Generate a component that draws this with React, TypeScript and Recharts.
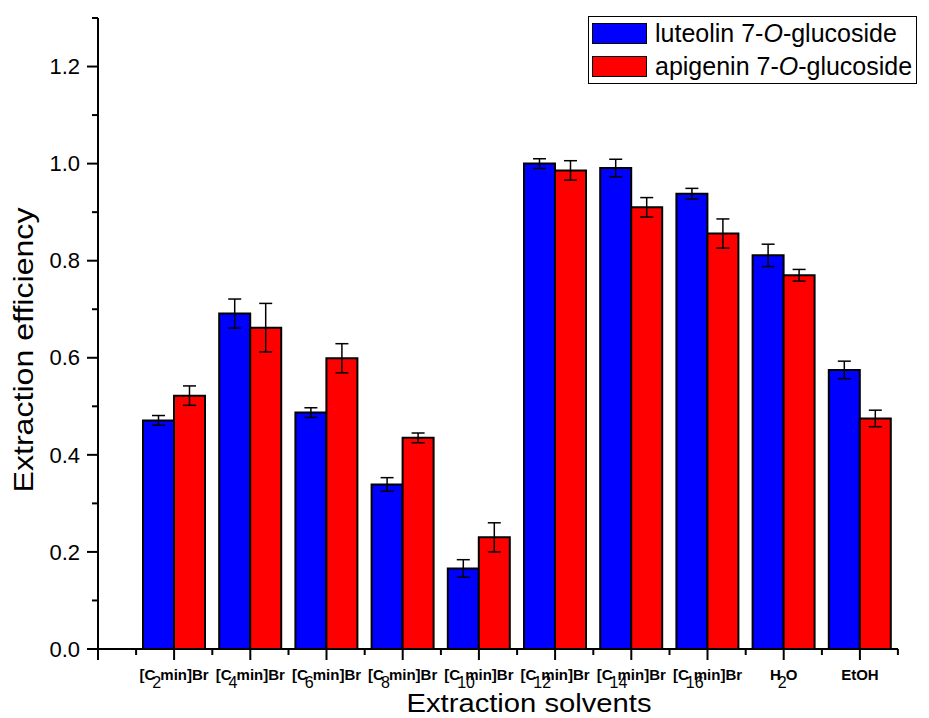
import { Bar, BarChart, ErrorBar, Legend, XAxis, YAxis } from 'recharts'

const FONT = '"Liberation Sans", Arial, sans-serif'
const LUTEOLIN_COLOR = '#0000ff'
const APIGENIN_COLOR = '#ff0000'

const categories = ['C2', 'C4', 'C6', 'C8', 'C10', 'C12', 'C14', 'C16', 'H2O', 'EtOH']
// [before subscript, subscript, after subscript]
const tickLabels: [string, string, string][] = [
  ['[C', '2', 'min]Br'],
  ['[C', '4', 'min]Br'],
  ['[C', '6', 'min]Br'],
  ['[C', '8', 'min]Br'],
  ['[C', '10', 'min]Br'],
  ['[C', '12', 'min]Br'],
  ['[C', '14', 'min]Br'],
  ['[C', '16', 'min]Br'],
  ['H', '2', 'O'],
  ['EtOH', '', ''],
]
const luteolin = [0.471, 0.691, 0.487, 0.339, 0.166, 1.0, 0.991, 0.938, 0.811, 0.575]
const luteolinErr = [0.01, 0.03, 0.01, 0.014, 0.018, 0.01, 0.018, 0.011, 0.023, 0.018]
const apigenin = [0.522, 0.662, 0.599, 0.435, 0.23, 0.986, 0.91, 0.856, 0.77, 0.475]
const apigeninErr = [0.02, 0.05, 0.03, 0.01, 0.03, 0.02, 0.02, 0.03, 0.012, 0.017]
const yTicks = [0, 0.1, 0.2, 0.3, 0.4, 0.5, 0.6, 0.7, 0.8, 0.9, 1.0, 1.1, 1.2, 1.3]
const seriesNames = ['luteolin', 'apigenin']

const rows = categories.map((key, i) => ({
  key,
  luteolin: luteolin[i],
  luteolinErr: luteolinErr[i],
  apigenin: apigenin[i],
  apigeninErr: apigeninErr[i],
}))

function XTick(props: any) {
  const { x, y, payload, index } = props
  const [pre, sub, post] = tickLabels[index] ?? [String(payload.value), '', '']
  const subW = 0.556 * 16 * sub.length
  const last = index === categories.length - 1
  return (
    <g>
      <line x1={x} y1={y} x2={x} y2={y + 11} stroke="#000" strokeWidth={2} />
      <line x1={x - 38} y1={y} x2={x - 38} y2={y + 6} stroke="#000" strokeWidth={2} />
      {last && <line x1={x + 38} y1={y} x2={x + 38} y2={y + 6} stroke="#000" strokeWidth={2} />}
      <text
        x={x}
        y={y + 31}
        textAnchor="middle"
        fontFamily={FONT}
        fontSize={15}
        fontWeight="bold"
        fill="#000"
      >
        <tspan>{pre}</tspan>
        {sub && (
          <tspan dx={-3} dy={8} fontSize={16} fontWeight="normal">
            {sub}
          </tspan>
        )}
        {sub && (
          <tspan dx={-subW + 8} dy={-8}>
            {post}
          </tspan>
        )}
      </text>
    </g>
  )
}

function YTick(props: any) {
  const { x, y, payload } = props
  const step = Math.round(payload.value * 10)
  const major = step % 2 === 0
  return (
    <g>
      <line x1={x - (major ? 11 : 6)} y1={y} x2={x} y2={y} stroke="#000" strokeWidth={2} />
      {step === 0 && <line x1={x} y1={y} x2={x} y2={y + 11} stroke="#000" strokeWidth={2} />}
      {major && (
        <text x={x - 18} y={y} dy="0.35em" textAnchor="end" fontFamily={FONT} fontSize={22} fill="#000">
          {payload.value.toFixed(1)}
        </text>
      )}
    </g>
  )
}

function LegendBox() {
  const colors = [LUTEOLIN_COLOR, APIGENIN_COLOR]
  return (
    <div
      style={{
        width: 329,
        boxSizing: 'border-box',
        border: '1px solid #000',
        background: '#fff',
        fontFamily: FONT,
      }}
    >
      {seriesNames.map((name, i) => (
        <div key={name} style={{ display: 'flex', alignItems: 'center', height: 33 }}>
          <div
            style={{
              width: 55,
              height: 21,
              marginLeft: 3,
              marginRight: 8,
              boxSizing: 'border-box',
              border: '1.5px solid #000',
              background: colors[i],
            }}
          />
          <span style={{ fontSize: 25, lineHeight: '25px', color: '#000', whiteSpace: 'nowrap' }}>
            {name} 7-<i>O</i>-glucoside
          </span>
        </div>
      ))}
    </div>
  )
}

export default function App() {
  return (
    <div style={{ position: 'absolute', left: 0, top: 0, background: '#fff' }}>
      <BarChart
        width={929}
        height={718}
        data={rows}
        margin={{ top: 18, right: 31, bottom: 0, left: 0 }}
        barGap={0}
        barSize={31}
      >
        <XAxis
          dataKey="key"
          height={69}
          padding={{ left: 38, right: 0 }}
          interval={0}
          tickLine={false}
          tickSize={0}
          tickMargin={0}
          tick={<XTick />}
          axisLine={{ stroke: '#000', strokeWidth: 2 }}
          label={{
            content: ({ viewBox }: any) => (
              <text
                x={viewBox.x + viewBox.width / 2 + 31}
                y={viewBox.y + 63}
                textAnchor="middle"
                fontFamily={FONT}
                fontSize={25}
                textLength={245}
                lengthAdjust="spacingAndGlyphs"
                fill="#000"
              >
                Extraction solvents
              </text>
            ),
          }}
        />
        <YAxis
          type="number"
          width={98}
          domain={[0, 1.3]}
          ticks={yTicks}
          interval={0}
          tickLine={false}
          tickSize={0}
          tickMargin={0}
          tick={<YTick />}
          axisLine={{ stroke: '#000', strokeWidth: 2 }}
          label={{
            content: ({ viewBox }: any) => {
              const cx = 33
              const cy = viewBox.y + 332
              return (
                <text
                  x={cx}
                  y={cy}
                  transform={`rotate(-90 ${cx} ${cy})`}
                  textAnchor="middle"
                  fontFamily={FONT}
                  fontSize={28}
                  textLength={285}
                  lengthAdjust="spacingAndGlyphs"
                  fill="#000"
                >
                  Extraction efficiency
                </text>
              )
            },
          }}
        />
        <Legend
          layout="horizontal"
          verticalAlign="middle"
          align="center"
          content={<LegendBox />}
          wrapperStyle={{ left: 588, top: 16, width: 'auto' }}
        />
        <Bar
          dataKey="luteolin"
          fill={LUTEOLIN_COLOR}
          stroke="#000"
          strokeWidth={2}
          isAnimationActive={false}
        >
          <ErrorBar dataKey="luteolinErr" width={6.5} stroke="#000" strokeWidth={1.5} isAnimationActive={false} />
        </Bar>
        <Bar
          dataKey="apigenin"
          fill={APIGENIN_COLOR}
          stroke="#000"
          strokeWidth={2}
          isAnimationActive={false}
        >
          <ErrorBar dataKey="apigeninErr" width={6.5} stroke="#000" strokeWidth={1.5} isAnimationActive={false} />
        </Bar>
      </BarChart>
    </div>
  )
}
